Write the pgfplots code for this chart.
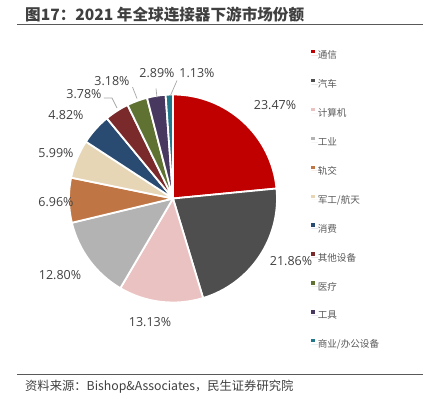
\documentclass[border=0pt]{standalone}
\usepackage{fontspec}
\setmainfont{Noto Sans CJK SC}
\newfontfamily\latinfont{Open Sans}
\usepackage{pgfplots}
\pgfplotsset{compat=1.18}
\usepackage{pgfplotstable}

\definecolor{c0}{HTML}{C00000}
\definecolor{c1}{HTML}{4E4E4E}
\definecolor{c2}{HTML}{EBC2C2}
\definecolor{c3}{HTML}{B3B3B3}
\definecolor{c4}{HTML}{BF7644}
\definecolor{c5}{HTML}{E7D6B6}
\definecolor{c6}{HTML}{294B72}
\definecolor{c7}{HTML}{7A2A2A}
\definecolor{c8}{HTML}{5F7232}
\definecolor{c9}{HTML}{48385F}
\definecolor{c10}{HTML}{20788A}
\definecolor{labelgray}{HTML}{404040}
\definecolor{leggray}{HTML}{595959}
\definecolor{linegray}{HTML}{A6A6A6}

% value = share (%), lx/ly = label position relative to pie centre (pt)
\pgfplotstableread{
name value lx ly
通信 23.47 102 93.5
汽车 21.86 118 -62.5
计算机 13.13 -23 -123.5
工业 12.80 -113 -76.5
轨交 6.96 -117 -3.5
军工/航天 5.99 -117 45.5
消费 4.82 -107 83.5
其他设备 3.78 -89 104.5
医疗 3.18 -61 117.5
工具 2.89 -16 125.5
商业/办公设备 1.13 24 125.5
}\piedata

\begin{document}
\begin{tikzpicture}
\path[use as bounding box] (0pt,0pt) rectangle (437pt,-399pt);

\pgfmathsetmacro\total{0}
\pgfplotsforeachungrouped \i in {0,...,10}{%
  \pgfplotstablegetelem{\i}{value}\of\piedata
  \pgfmathsetmacro\total{\total+\pgfplotsretval}%
}
\pgfmathsetmacro\cum{0}
\pgfplotsforeachungrouped \i in {0,...,10}{%
  \pgfplotstablegetelem{\i}{value}\of\piedata
  \expandafter\xdef\csname lab\i\endcsname{\pgfplotsretval}%
  \pgfmathsetmacro\sa{90-(\cum/\total)*360}%
  \pgfmathsetmacro\cum{\cum+\pgfplotsretval}%
  \pgfmathsetmacro\ea{90-(\cum/\total)*360}%
  \expandafter\xdef\csname sa\i\endcsname{\sa}%
  \expandafter\xdef\csname ea\i\endcsname{\ea}%
  \pgfplotstablegetelem{\i}{lx}\of\piedata
  \expandafter\xdef\csname lx\i\endcsname{\pgfplotsretval}%
  \pgfplotstablegetelem{\i}{ly}\of\piedata
  \expandafter\xdef\csname ly\i\endcsname{\pgfplotsretval}%
}

% title
\node[anchor=west, inner sep=0pt, text=labelgray,
      font=\fontsize{15.6}{18}\selectfont\bfseries] at (25pt,-15pt)
      {图17：2021 年全球连接器下游市场份额};
\draw[draw=leggray, line width=1.3pt] (17pt,-24.5pt) -- (423pt,-24.5pt);

% footer
\draw[draw=leggray, line width=1pt] (17pt,-374pt) -- (423pt,-374pt);
\node[anchor=west, inner sep=0pt, text=labelgray,
      font=\fontsize{12.3}{14}\selectfont] at (25pt,-386.5pt)
      {资料来源：Bishop\&Associates，民生证券研究院};

\begin{axis}[
  hide axis,
  x=1pt, y=1pt,
  xmin=-120, xmax=120, ymin=-120, ymax=120,
  anchor=origin, at={(173pt,-198.5pt)},
  disabledatascaling,
  clip=false,
  legend cell align=left,
  legend image code/.code={%
    \fill[#1] (-1.7pt,1.9pt) rectangle (1.7pt,5.3pt);
    \path (-1.7pt,0pt) -- (4.8pt,0pt);},
  legend style={
    at={(axis cs:138.3,148.5)}, anchor=north west,
    draw=none, fill=none, inner sep=0pt, outer sep=0pt,
    row sep=19.1pt,
    font=\fontsize{9.6}{11}\selectfont,
    text=leggray,
    nodes={inner sep=0pt, text height=8pt, text depth=1pt},
  },
  legend entries={通信,汽车,计算机,工业,轨交,军工/航天,消费,其他设备,医疗,工具,商业/办公设备},
]
\pgfplotsinvokeforeach{0,...,10}{\addlegendimage{fill=c#1, draw=none}}

\pgfplotsinvokeforeach{0,...,10}{%
  \fill[c#1, draw=white, line width=1.8pt, line join=round]
    (axis cs:0,0) -- ++(\csname sa#1\endcsname:104pt)
    arc[start angle=\csname sa#1\endcsname, end angle=\csname ea#1\endcsname, radius=104pt]
    -- cycle;
}

\pgfplotsinvokeforeach{0,...,10}{%
  \node[text=labelgray, inner sep=0pt, font=\latinfont\fontsize{12.5}{14}\selectfont]
    at (axis cs:\csname lx#1\endcsname,\csname ly#1\endcsname) {\csname lab#1\endcsname\%};
}

% leader lines
\addplot[forget plot, draw=linegray, line width=0.7pt] coordinates {(-69,100.5) (-61,100.5) (-56,90.5)};
\addplot[forget plot, draw=linegray, line width=0.7pt] coordinates {(-40.5,111.5) (-36,100)};
\addplot[forget plot, draw=linegray, line width=0.7pt] coordinates {(-17,110) (-16,101)};
\addplot[forget plot, draw=linegray, line width=0.7pt] coordinates {(4,118) (-2.5,103)};
\end{axis}
\end{tikzpicture}
\end{document}
